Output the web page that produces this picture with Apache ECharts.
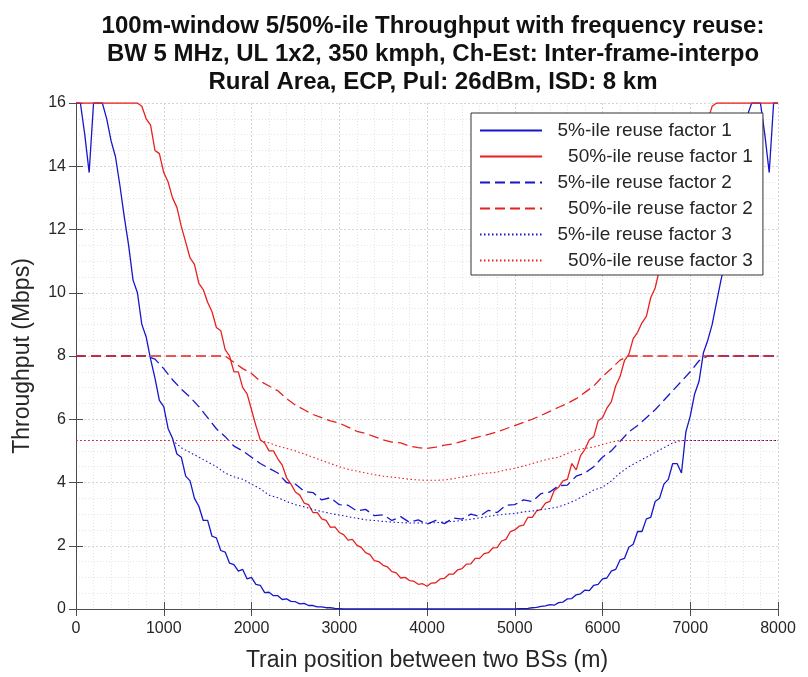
<!DOCTYPE html>
<html><head><meta charset="utf-8">
<script src="https://cdn.jsdelivr.net/npm/echarts@6/dist/echarts.min.js"></script>
<style>html,body{margin:0;padding:0;background:#fff}#c{width:808px;height:677px}</style>
</head><body><div id="c"></div>
<script>
// Train position (m), 100 m steps (reuse factor 2 and 3 curves)
const positions = [0,100,200,300,400,500,600,700,800,900,1000,1100,1200,1300,1400,1500,1600,1700,1800,1900,2000,2100,2200,2300,2400,2500,2600,2700,2800,2900,3000,3100,3200,3300,3400,3500,3600,3700,3800,3900,4000,4100,4200,4300,4400,4500,4600,4700,4800,4900,5000,5100,5200,5300,5400,5500,5600,5700,5800,5900,6000,6100,6200,6300,6400,6500,6600,6700,6800,6900,7000,7100,7200,7300,7400,7500,7600,7700,7800,7900,8000];
// Train position (m), 50 m steps (reuse factor 1 curves)
const positionsFine = [0,50,100,150,200,250,300,350,400,450,500,550,600,650,700,750,800,850,900,950,1000,1050,1100,1150,1200,1250,1300,1350,1400,1450,1500,1550,1600,1650,1700,1750,1800,1850,1900,1950,2000,2050,2100,2150,2200,2250,2300,2350,2400,2450,2500,2550,2600,2650,2700,2750,2800,2850,2900,2950,3000,3050,3100,3150,3200,3250,3300,3350,3400,3450,3500,3550,3600,3650,3700,3750,3800,3850,3900,3950,4000,4050,4100,4150,4200,4250,4300,4350,4400,4450,4500,4550,4600,4650,4700,4750,4800,4850,4900,4950,5000,5050,5100,5150,5200,5250,5300,5350,5400,5450,5500,5550,5600,5650,5700,5750,5800,5850,5900,5950,6000,6050,6100,6150,6200,6250,6300,6350,6400,6450,6500,6550,6600,6650,6700,6750,6800,6850,6900,6950,7000,7050,7100,7150,7200,7250,7300,7350,7400,7450,7500,7550,7600,7650,7700,7750,7800,7850,7900,7950,8000];
// 5%-ile reuse factor 1 (on positionsFine)
const p5rf1 = [16,16,15.0,13.8,16,16,16,15.5,14.8,14.3,13.4,12.4,11.5,10.4,10.0,9.0,8.6,7.9,7.3,6.6,6.4,5.7,5.4,4.9,4.8,4.2,4.05,3.5,3.25,2.8,2.8,2.3,2.25,1.85,1.8,1.45,1.4,1.2,1.25,0.95,1.0,0.78,0.75,0.52,0.53,0.42,0.42,0.3,0.32,0.24,0.23,0.16,0.18,0.11,0.11,0.07,0.07,0.04,0.04,0.02,0.01,
  0,0,0,0,0,0,0,0,0,0,0,0,0,0,0,0,0,0,0,0,0,0,0,0,0,0,0,0,0,0,0,0,0,0,0,0,0,0,0,0,
  0.01,0.01,0.02,0.04,0.05,0.08,0.1,0.14,0.12,0.2,0.22,0.32,0.33,0.45,0.48,0.6,0.58,0.75,0.78,0.95,0.98,1.2,1.25,1.55,1.6,1.95,2.05,2.45,2.45,2.85,2.9,3.4,3.5,3.95,4.1,4.6,4.6,4.3,5.6,6.1,6.8,7.2,8.1,8.5,9.0,9.7,10.4,11.0,11.9,12.5,13.7,14.5,15.6,16,16,16,15.0,13.8,16,16];
// 50%-ile reuse factor 1 (on positionsFine)
const p50rf1 = [16,16,16,16,16,16,16,16,16,16,16,16,16,16,16,
  15.9,15.5,15.3,14.5,14.4,13.8,13.5,13.0,12.7,12.1,11.6,11.1,10.9,10.3,10.1,9.7,9.4,8.9,8.8,8.2,8.0,7.5,7.5,7.0,6.8,6.3,5.8,5.35,5.25,5.0,
  5.0,4.75,4.55,4.15,3.95,3.7,3.6,3.35,3.3,3.05,3.05,2.85,2.8,2.58,2.6,2.42,2.35,2.18,2.2,2.02,1.95,1.78,1.72,1.53,1.5,1.38,1.33,1.18,1.14,0.98,
  1.0,0.9,0.88,0.78,0.8,0.72,0.82,0.83,0.95,0.97,1.1,1.1,1.24,1.28,1.42,1.43,1.6,1.6,1.75,1.78,1.93,1.94,2.15,2.2,2.45,2.5,2.62,2.65,2.9,2.9,
  3.1,3.15,3.35,3.4,3.75,3.85,4.05,4.1,4.6,4.4,4.85,5.05,5.35,5.45,5.95,6.05,6.35,6.55,7.05,7.35,7.85,8.05,8.55,8.75,9.05,9.25,9.85,10.15,10.75,10.95,
  11.45,11.85,12.35,12.75,13.35,13.65,14.15,14.55,15.05,15.45,15.9,
  16,16,16,16,16,16,16,16,16,16,16,16,16,16,16];
// 5%-ile reuse factor 2 (on positions)
const p5rf2 = [8,8,8,8,8,8,8,8,8,7.9,7.6,7.25,6.95,6.7,6.4,6.05,5.7,5.45,5.15,5.0,4.8,4.6,4.45,4.3,4.0,3.95,3.72,3.68,3.45,3.52,3.3,3.28,3.1,3.15,2.95,2.98,2.8,2.92,2.74,2.82,2.68,2.8,2.7,2.88,2.84,3.0,2.93,3.12,3.05,3.28,3.3,3.45,3.4,3.65,3.7,3.9,3.92,4.2,4.3,4.5,4.8,5.0,5.3,5.6,5.8,6.05,6.3,6.6,6.9,7.2,7.5,7.85,8,8,8,8,8,8,8,8,8];
// 50%-ile reuse factor 2 (on positions)
const p50rf2 = [8,8,8,8,8,8,8,8,8,8,8,8,8,8,8,8,8,8,7.8,7.6,7.45,7.2,7.05,6.9,6.65,6.45,6.3,6.15,6.05,5.95,5.88,5.75,5.62,5.55,5.45,5.35,5.28,5.25,5.15,5.1,5.08,5.12,5.18,5.22,5.3,5.38,5.45,5.52,5.6,5.7,5.8,5.9,6.0,6.12,6.25,6.38,6.5,6.65,6.85,7.05,7.35,7.6,7.87,8,8,8,8,8,8,8,8,8,8,8,8,8,8,8,8,8,8];
// 5%-ile reuse factor 3 (on positions)
const p5rf3 = [5.33,5.33,5.33,5.33,5.33,5.33,5.33,5.33,5.33,5.33,5.33,5.33,5.1,4.95,4.8,4.65,4.5,4.3,4.18,4.1,3.95,3.8,3.6,3.52,3.4,3.3,3.23,3.15,3.08,3.02,2.97,2.92,2.87,2.82,2.8,2.77,2.75,2.73,2.72,2.72,2.72,2.73,2.75,2.77,2.8,2.84,2.88,2.93,2.97,3.0,3.02,3.07,3.1,3.14,3.18,3.23,3.33,3.45,3.6,3.76,3.85,4.05,4.3,4.5,4.65,4.8,4.95,5.1,5.25,5.33,5.33,5.33,5.33,5.33,5.33,5.33,5.33,5.33,5.33,5.33,5.33];
// 50%-ile reuse factor 3 (on positions)
const p50rf3 = [5.33,5.33,5.33,5.33,5.33,5.33,5.33,5.33,5.33,5.33,5.33,5.33,5.33,5.33,5.33,5.33,5.33,5.33,5.33,5.33,5.33,5.33,5.25,5.15,5.08,5.0,4.9,4.8,4.7,4.6,4.5,4.42,4.36,4.3,4.25,4.2,4.17,4.14,4.1,4.08,4.07,4.07,4.08,4.12,4.17,4.22,4.27,4.3,4.33,4.4,4.45,4.52,4.6,4.68,4.75,4.8,4.92,5.03,5.08,5.12,5.2,5.28,5.33,5.33,5.33,5.33,5.33,5.33,5.33,5.33,5.33,5.33,5.33,5.33,5.33,5.33,5.33,5.33,5.33,5.33,5.33];

const seriesNames = ['5%-ile reuse factor 1','50%-ile reuse factor 1','5%-ile reuse factor 2','50%-ile reuse factor 2','5%-ile reuse factor 3','50%-ile reuse factor 3'];
const xTicks = [0,1000,2000,3000,4000,5000,6000,7000,8000];
const yTicks = [0,2,4,6,8,10,12,14,16];

const BLUE = '#1616cc', RED = '#e8201f';
const values = [p5rf1, p50rf1, p5rf2, p50rf2, p5rf3, p50rf3];
const xs = [positionsFine, positionsFine, positions, positions, positions, positions];
const colors = [BLUE, RED, BLUE, RED, BLUE, RED];
const dashes = ['solid','solid',[10,5],[10,5],[1.5,2.5],[1.5,2.5]];
const widths = [1.3,1.3,1.3,1.3,1.1,1.1];

const series = values.map((v, k) => ({
  name: seriesNames[k], type: 'line', xAxisIndex: 0, yAxisIndex: 0,
  data: xs[k].map((x, i) => [x, v[i]]),
  showSymbol: false, symbol: 'none', smooth: false, animation: false,
  lineStyle: {color: colors[k], width: widths[k], type: dashes[k]},
  itemStyle: {color: colors[k]}
}));

const FONT = 'Liberation Sans, Arial, sans-serif';
const axCol = '#4d4d4d', txtCol = '#262626';
const chart = echarts.init(document.getElementById('c'), null, {renderer: 'canvas'});
chart.setOption({
  animation: false,
  backgroundColor: '#fff',
  title: {
    text: '100m-window 5/50%-ile Throughput with frequency reuse:\nBW 5 MHz, UL 1x2, 350 kmph, Ch-Est: Inter-frame-interpo\nRural Area, ECP, Pul: 26dBm, ISD: 8 km',
    left: 428, top: 7, textAlign: 'center',
    textStyle: {fontFamily: FONT, fontSize: 24, fontWeight: 'bold', color: '#111', lineHeight: 28}
  },
  grid: {left: 76, right: 30, top: 103, bottom: 68},
  legend: {
    orient: 'vertical', left: 471, top: 113,
    data: seriesNames,
    backgroundColor: '#fff', borderColor: '#333', borderWidth: 1,
    padding: [8, 10, 5, 8], itemGap: 7, itemWidth: 62, itemHeight: 14,
    itemStyle: {color: 'rgba(0,0,0,0)', borderWidth: 0, opacity: 0},
    formatter: n => (n.startsWith('50') ? '    ' : '  ') + n,
    textStyle: {fontFamily: FONT, fontSize: 19, color: txtCol}
  },
  xAxis: [{
    type: 'value', min: 0, max: 8000, interval: 1000, position: 'bottom',
    name: 'Train position between two BSs (m)', nameLocation: 'middle', nameGap: 40,
    nameTextStyle: {fontFamily: FONT, fontSize: 23, color: txtCol},
    axisLine: {show: true, lineStyle: {color: axCol}},
    axisTick: {show: true, inside: true, length: 7, lineStyle: {color: axCol}},
    axisLabel: {margin: 12, fontFamily: FONT, fontSize: 16, color: txtCol,
      formatter: v => xTicks.includes(v) ? String(v) : ''},
    splitLine: {show: true, lineStyle: {color: '#d4d4d4', type: [2, 2]}},
    minorTick: {show: false, splitNumber: 5},
    minorSplitLine: {show: true, lineStyle: {color: '#e4e4e4', type: [1, 2]}}
  }, {
    type: 'value', min: 0, max: 8000, interval: 1000, position: 'top',
    axisLine: {show: true, lineStyle: {color: axCol}},
    axisTick: {show: true, inside: true, length: 7, lineStyle: {color: axCol}},
    axisLabel: {show: false}, splitLine: {show: false}
  }],
  yAxis: [{
    type: 'value', min: 0, max: 16, interval: 2, position: 'left',
    name: 'Throughput (Mbps)', nameLocation: 'middle', nameGap: 42,
    nameTextStyle: {fontFamily: FONT, fontSize: 23, color: txtCol},
    axisLine: {show: true, lineStyle: {color: axCol}},
    axisTick: {show: true, inside: true, length: 7, lineStyle: {color: axCol}},
    axisLabel: {margin: 10, fontFamily: FONT, fontSize: 16, color: txtCol,
      formatter: v => yTicks.includes(v) ? String(v) : ''},
    splitLine: {show: true, lineStyle: {color: '#d4d4d4', type: [2, 2]}},
    minorTick: {show: false, splitNumber: 4},
    minorSplitLine: {show: true, lineStyle: {color: '#e4e4e4', type: [1, 2]}}
  }, {
    type: 'value', min: 0, max: 16, interval: 2, position: 'right',
    axisLine: {show: true, lineStyle: {color: axCol}},
    axisTick: {show: true, inside: true, length: 7, lineStyle: {color: axCol}},
    axisLabel: {show: false}, splitLine: {show: false}
  }],
  series: series
});
</script></body></html>
